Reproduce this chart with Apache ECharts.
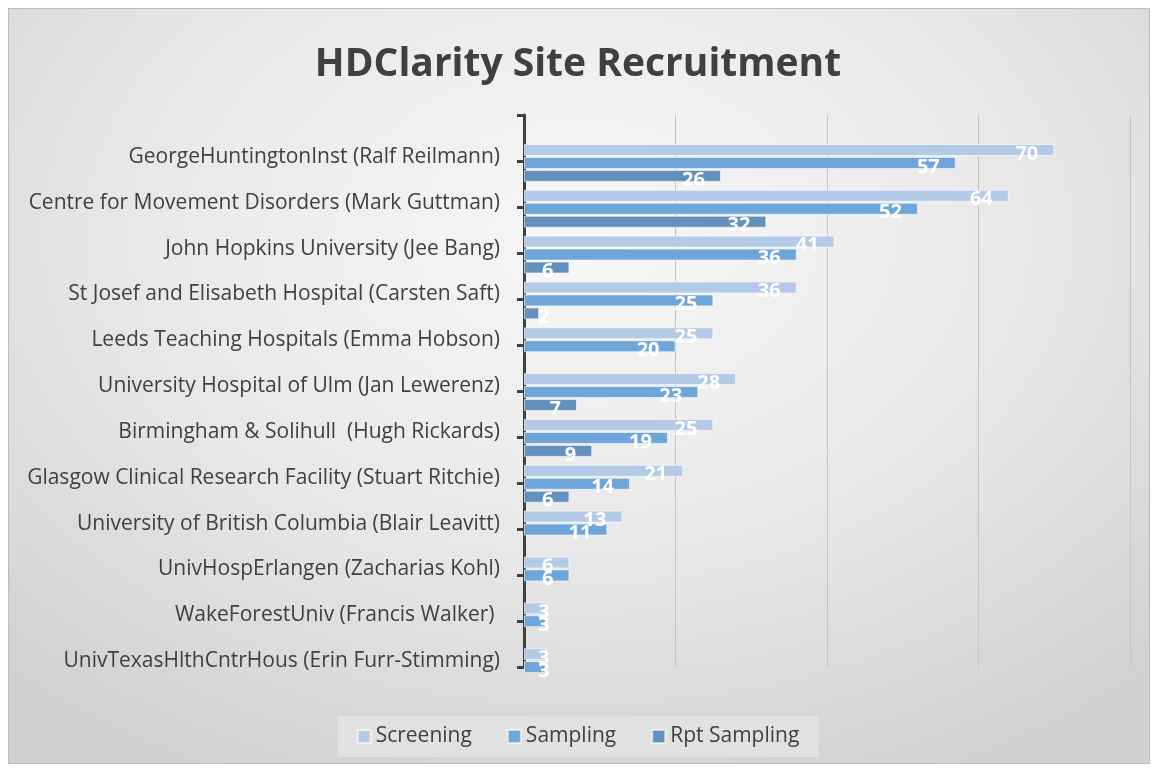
<!DOCTYPE html>
<html>
<head>
<meta charset="utf-8">
<script src="https://cdn.jsdelivr.net/npm/echarts@6/dist/echarts.min.js"></script>
<style>
  html, body { margin: 0; padding: 0; background: #fff; }
  .frame {
    position: absolute; left: 8px; top: 8px; width: 1142px; height: 756px;
    border: 1px solid #bdbdbd; box-sizing: border-box;
    background: radial-gradient(ellipse 75% 80% at 50% 30%, #f7f7f7 0%, #e9e9e9 50%, #d0d0d0 100%);
  }
  #chart { position: absolute; left: 0; top: 0; width: 1156px; height: 770px; }
</style>
</head>
<body>
<div class="frame"></div>
<div id="chart"></div>
<script>
const categories = [
  'GeorgeHuntingtonInst (Ralf Reilmann)',
  'Centre for Movement Disorders (Mark Guttman)',
  'John Hopkins University (Jee Bang)',
  'St Josef and Elisabeth Hospital (Carsten Saft)',
  'Leeds Teaching Hospitals (Emma Hobson)',
  'University Hospital of Ulm (Jan Lewerenz)',
  'Birmingham & Solihull  (Hugh Rickards)',
  'Glasgow Clinical Research Facility (Stuart Ritchie)',
  'University of British Columbia (Blair Leavitt)',
  'UnivHospErlangen (Zacharias Kohl)',
  'WakeForestUniv (Francis Walker) ',
  'UnivTexasHlthCntrHous (Erin Furr-Stimming)',
]
const screening = [70, 64, 41, 36, 25, 28, 25, 21, 13, 6, 3, 3]
const sampling = [57, 52, 36, 25, 20, 23, 19, 14, 11, 6, 3, 3]
const rptSampling = [26, 32, 6, 2, null, 7, 9, 6, null, null, null, null]
const xTicks = [0, 20, 40, 60, 80]

const FONT = '"Open Sans", "Noto Sans", sans-serif'
const chart = echarts.init(document.getElementById('chart'), null, { renderer: 'canvas' })

const barLabel = {
  show: true,
  position: 'insideRight',
  distance: 16,
  offset: [0, 4],
  color: '#ffffff',
  fontFamily: FONT,
  fontSize: 20,
  fontWeight: 'bold',
}

// short bars: label sits just right of the axis, like Excel does
function withLabels(data) {
  return data.map((v) =>
    v != null && v < 5
      ? { value: v, label: { position: 'insideLeft', distance: 14 } }
      : v
  )
}

function barSeries(name, data, color) {
  return {
    name,
    type: 'bar',
    xAxisIndex: 0,
    yAxisIndex: 0,
    data: withLabels(data),
    barWidth: 12,
    barGap: '8%',
    itemStyle: { color, borderColor: 'rgba(255,255,255,0.6)', borderWidth: 1 },
    label: barLabel,
  }
}

chart.setOption({
  animation: false,
  backgroundColor: 'transparent',
  title: {
    text: 'HDClarity Site Recruitment',
    left: 'center',
    top: 40,
    textStyle: { fontFamily: FONT, fontSize: 39, fontWeight: 'bold', color: '#404040' },
  },
  legend: {
    bottom: 13,
    left: 'center',
    itemWidth: 13,
    itemHeight: 13,
    itemGap: 35,
    padding: [10, 19],
    backgroundColor: '#e1e1e1',
    icon: 'rect',
    textStyle: { fontFamily: FONT, fontSize: 21, color: '#404040' },
    data: ['Screening', 'Sampling', 'Rpt Sampling'],
  },
  grid: [
    { left: 524, right: 26, top: 140, height: 550 },
    { left: 524, right: 26, top: 115, height: 552 },
  ],
  xAxis: [
    { gridIndex: 0, type: 'value', min: xTicks[0], max: xTicks[xTicks.length - 1], interval: 20, show: false },
    {
      gridIndex: 1, type: 'value', min: xTicks[0], max: xTicks[xTicks.length - 1], interval: 20,
      axisLine: { show: false }, axisTick: { show: false }, axisLabel: { show: false },
      splitLine: { lineStyle: { color: '#c4c4c4', width: 1 } },
    },
  ],
  yAxis: [
    {
      gridIndex: 0, type: 'category', inverse: true, data: categories,
      axisLine: { show: false }, axisTick: { show: false },
      axisLabel: {
        margin: 24, verticalAlign: 'bottom', lineHeight: 12,
        fontFamily: FONT, fontSize: 21, color: '#404040',
      },
    },
    {
      gridIndex: 1, type: 'category', inverse: true, data: categories,
      axisLine: { lineStyle: { color: '#404040', width: 3 } },
      axisTick: { show: true, length: 7, lineStyle: { color: '#404040', width: 3 } },
      axisLabel: { show: false },
    },
  ],
  series: [
    barSeries('Screening', screening, '#b4cbe7'),
    barSeries('Sampling', sampling, '#6fa6da'),
    barSeries('Rpt Sampling', rptSampling, '#6390bd'),
  ],
})
</script>
</body>
</html>
